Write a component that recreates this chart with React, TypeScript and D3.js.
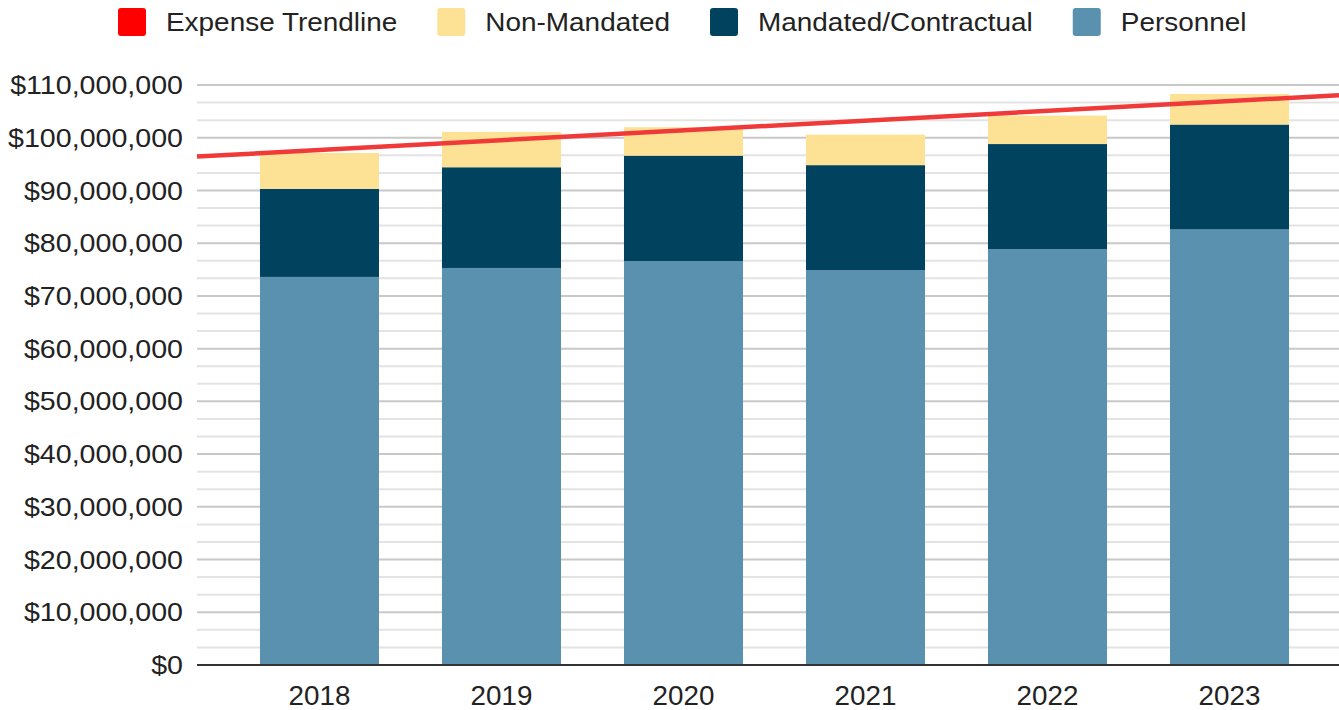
import { useEffect, useRef } from "react";
import * as d3 from "d3";

const years = ["2018", "2019", "2020", "2021", "2022", "2023"];
const personnel = [73.6, 75.3, 76.6, 74.9, 78.9, 82.6];
const mandated = [16.7, 19.1, 20.0, 19.9, 19.9, 19.9];
const nonMandated = [6.8, 6.7, 5.4, 5.8, 5.4, 5.8];
const yTicks = [0, 10, 20, 30, 40, 50, 60, 70, 80, 90, 100, 110];

const seriesKeys = ["personnel", "mandated", "nonMandated"];
const seriesColors: Record<string, string> = {
  personnel: "#5a91ae",
  mandated: "#01425f",
  nonMandated: "#fde194",
};
const legendItems = [
  { label: "Expense Trendline", color: "#ff0000" },
  { label: "Non-Mandated", color: "#fde194" },
  { label: "Mandated/Contractual", color: "#01425f" },
  { label: "Personnel", color: "#5a91ae" },
];

const FONT = "Arial, 'Liberation Sans', sans-serif";

export default function App() {
  const svgRef = useRef<SVGSVGElement>(null);

  useEffect(() => {
    document.body.style.margin = "0";
    if (!svgRef.current) return;
    const svg = d3.select(svgRef.current);
    svg.selectAll("*").remove();

    const width = 1339;
    const height = 710;
    const left = 197;
    const plotRight = 1352;

    const rows = years.map((y, i) => ({
      year: y,
      personnel: personnel[i] * 1e6,
      mandated: mandated[i] * 1e6,
      nonMandated: nonMandated[i] * 1e6,
    }));

    const x = d3.scaleBand().domain(years).range([left, plotRight])
      .paddingInner(0.346).paddingOuter(0.346);
    const y = d3.scaleLinear().domain([0, 110e6]).range([665, 85]);

    // minor gridlines (thirds)
    const minor: number[] = [];
    for (let i = 0; i < yTicks.length - 1; i++) {
      minor.push((yTicks[i] + 10 / 3) * 1e6, (yTicks[i] + 20 / 3) * 1e6);
    }
    svg.append("g").selectAll("line").data(minor).enter().append("line")
      .attr("x1", left).attr("x2", width)
      .attr("y1", d => y(d)).attr("y2", d => y(d))
      .attr("stroke", "#e3e3e3").attr("stroke-width", 2);

    svg.append("g").selectAll("line").data(yTicks.slice(1)).enter().append("line")
      .attr("x1", left).attr("x2", width)
      .attr("y1", d => y(d * 1e6)).attr("y2", d => y(d * 1e6))
      .attr("stroke", "#c8c8c8").attr("stroke-width", 2);

    // stacked bars
    const stacked = d3.stack<any>().keys(seriesKeys)(rows);
    svg.append("g").selectAll("g").data(stacked).enter().append("g")
      .attr("fill", d => seriesColors[d.key])
      .selectAll("rect").data(d => d).enter().append("rect")
      .attr("x", d => x(d.data.year) as number)
      .attr("width", x.bandwidth())
      .attr("y", d => y(d[1]))
      .attr("height", d => y(d[0]) - y(d[1]));

    // baseline
    svg.append("line")
      .attr("x1", left).attr("x2", width)
      .attr("y1", y(0)).attr("y2", y(0))
      .attr("stroke", "#333").attr("stroke-width", 2);

    // trendline (least squares fit of totals)
    const totals = rows.map(r => r.personnel + r.mandated + r.nonMandated);
    const idx = totals.map((_, i) => i);
    const mx = d3.mean(idx) as number;
    const my = d3.mean(totals) as number;
    const slope = d3.sum(idx, i => (i - mx) * (totals[i] - my)) / d3.sum(idx, i => (i - mx) ** 2);
    const intercept = my - slope * mx;
    const step = x.step();
    const c0 = (x(years[0]) as number) + x.bandwidth() / 2;
    const valAt = (px: number) => intercept + slope * ((px - c0) / step);
    svg.append("line")
      .attr("x1", left).attr("y1", y(valAt(left)))
      .attr("x2", width).attr("y2", y(valAt(width)) - 1)
      .attr("stroke", "#f03a3a").attr("stroke-width", 4.5);

    // y axis labels (slightly wide lettering as in the source)
    const fmt = d3.format("$,.0f");
    svg.append("g").selectAll("text").data(yTicks).enter().append("text")
      .attr("transform", d => `translate(183,${y(d * 1e6)}) scale(1.1,1)`)
      .attr("dy", "0.35em")
      .attr("text-anchor", "end")
      .attr("font-family", FONT).attr("font-size", 26)
      .attr("fill", "#222")
      .text(d => fmt(d * 1e6));

    // x axis labels
    svg.append("g").selectAll("text").data(years).enter().append("text")
      .attr("transform", d => `translate(${(x(d) as number) + x.bandwidth() / 2},696) scale(1.03,1)`)
      .attr("dy", "0.35em")
      .attr("text-anchor", "middle")
      .attr("font-family", FONT).attr("font-size", 27)
      .attr("fill", "#222")
      .text(d => d);

    // legend
    const lg = svg.append("g");
    const sx = 1.117;
    let lx = 118;
    legendItems.forEach(item => {
      lg.append("rect").attr("x", lx).attr("y", 8).attr("width", 28).attr("height", 28)
        .attr("rx", 3).attr("fill", item.color);
      const t = lg.append("text")
        .attr("transform", `translate(${lx + 48},22) scale(${sx},1)`)
        .attr("dy", "0.35em")
        .attr("font-family", FONT).attr("font-size", 25).attr("fill", "#222")
        .text(item.label);
      const w = (t.node() as SVGTextElement).getComputedTextLength() * sx;
      lx = lx + 48 + w + 40;
    });

    svg.attr("width", width).attr("height", height);
  }, []);

  return (
    <svg ref={svgRef} width={1339} height={710} style={{ display: "block", background: "#fff" }} />
  );
}
